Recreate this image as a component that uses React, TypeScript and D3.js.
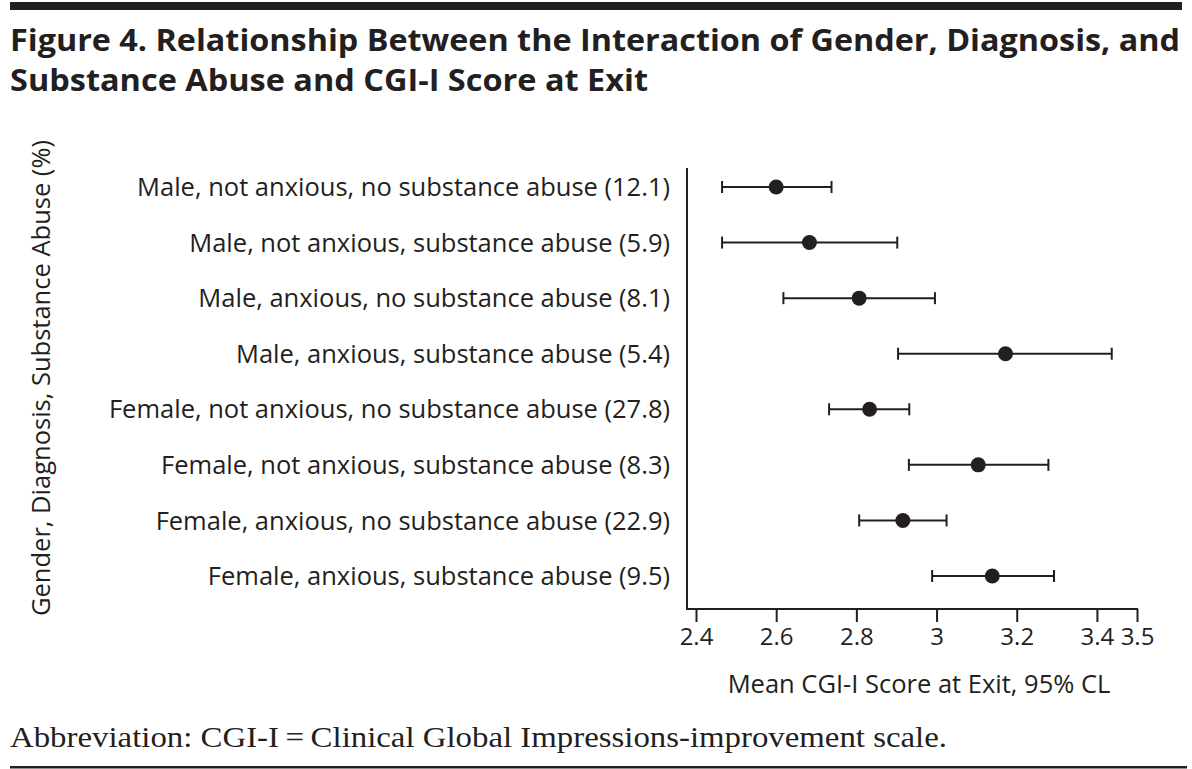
import React, { useEffect, useRef } from 'react';
import * as d3 from 'd3';

const groups = [
  'Male, not anxious, no substance abuse (12.1)',
  'Male, not anxious, substance abuse (5.9)',
  'Male, anxious, no substance abuse (8.1)',
  'Male, anxious, substance abuse (5.4)',
  'Female, not anxious, no substance abuse (27.8)',
  'Female, not anxious, substance abuse (8.3)',
  'Female, anxious, no substance abuse (22.9)',
  'Female, anxious, substance abuse (9.5)',
];
const means = [2.6, 2.683, 2.807, 3.172, 2.833, 3.104, 2.916, 3.139];
const lowerCL = [2.465, 2.465, 2.618, 2.904, 2.732, 2.931, 2.807, 2.989];
const upperCL = [2.738, 2.902, 2.996, 3.437, 2.932, 3.279, 3.025, 3.293];
const xTicks = [2.4, 2.6, 2.8, 3, 3.2, 3.4, 3.5];

const INK = '#231f20';
const SANS = '"Open Sans", "Noto Sans", sans-serif';
const FS = 25.5;

export default function App() {
  const svgRef = useRef<SVGSVGElement>(null);

  useEffect(() => {
    if (!svgRef.current) return;
    const svg = d3.select(svgRef.current);
    svg.selectAll('*').remove();

    const axisX = 687;
    const axisTop = 168;
    const axisBottom = 609;

    const x = d3.scaleLinear().domain([2.4, 3.5]).range([696, 1137]);
    const y = d3.scalePoint<string>().domain(groups).range([187, 576]);

    // top rule
    svg.append('rect')
      .attr('x', 10).attr('y', 2)
      .attr('width', 1172).attr('height', 8)
      .attr('fill', INK);

    // title
    svg.append('text')
      .attr('x', 10).attr('y', 51)
      .attr('font-family', SANS).attr('font-weight', 700)
      .attr('font-size', 29.5).attr('fill', INK)
      .attr('textLength', 1170).attr('lengthAdjust', 'spacingAndGlyphs')
      .text('Figure 4. Relationship Between the Interaction of Gender, Diagnosis, and');
    svg.append('text')
      .attr('x', 10).attr('y', 91)
      .attr('font-family', SANS).attr('font-weight', 700)
      .attr('font-size', 29.5).attr('fill', INK)
      .attr('textLength', 638).attr('lengthAdjust', 'spacingAndGlyphs')
      .text('Substance Abuse and CGI-I Score at Exit');

    // axes lines
    svg.append('line')
      .attr('x1', axisX).attr('x2', axisX)
      .attr('y1', axisTop).attr('y2', axisBottom + 1)
      .attr('stroke', INK).attr('stroke-width', 2);
    svg.append('line')
      .attr('x1', axisX).attr('x2', x(3.5) + 1)
      .attr('y1', axisBottom).attr('y2', axisBottom)
      .attr('stroke', INK).attr('stroke-width', 2);

    const gx = svg.append('g')
      .attr('transform', `translate(0,${axisBottom})`)
      .call(d3.axisBottom(x).tickValues(xTicks).tickSize(13).tickPadding(6).tickFormat(d3.format('')));
    gx.select('.domain').remove();
    gx.selectAll('line').attr('stroke', INK).attr('stroke-width', 2);
    gx.selectAll('text')
      .attr('font-family', SANS).attr('font-size', 24).attr('fill', INK);

    // axis titles
    svg.append('text')
      .attr('x', 919).attr('y', 693)
      .attr('text-anchor', 'middle')
      .attr('font-family', SANS).attr('font-size', FS).attr('fill', INK)
      .text('Mean CGI-I Score at Exit, 95% CL');
    svg.append('text')
      .attr('transform', 'translate(50,378) rotate(-90)')
      .attr('text-anchor', 'middle')
      .attr('font-family', SANS).attr('font-size', FS).attr('fill', INK)
      .text('Gender, Diagnosis, Substance Abuse (%)');

    // category labels
    svg.append('g').selectAll('text')
      .data(groups)
      .join('text')
      .attr('x', 670)
      .attr('y', d => y(d)!)
      .attr('dy', '0.36em')
      .attr('text-anchor', 'end')
      .attr('font-family', SANS).attr('font-size', FS).attr('fill', INK)
      .text(d => d);

    // error bars
    const rows = groups.map((g, i) => ({ g, m: means[i], lo: lowerCL[i], hi: upperCL[i] }));
    const bars = svg.append('g');
    rows.forEach(r => {
      const cy = y(r.g)!;
      bars.append('line')
        .attr('x1', x(r.lo)).attr('x2', x(r.hi))
        .attr('y1', cy).attr('y2', cy)
        .attr('stroke', INK).attr('stroke-width', 2);
      [r.lo, r.hi].forEach(v => {
        bars.append('line')
          .attr('x1', x(v)).attr('x2', x(v))
          .attr('y1', cy - 6).attr('y2', cy + 6)
          .attr('stroke', INK).attr('stroke-width', 2);
      });
      bars.append('circle')
        .attr('cx', x(r.m)).attr('cy', cy)
        .attr('r', 7.5)
        .attr('fill', INK);
    });

    // footnote
    svg.append('text')
      .attr('x', 10).attr('y', 747)
      .attr('font-family', '"Liberation Serif", "DejaVu Serif", serif')
      .attr('font-size', 30).attr('fill', INK)
      .attr('textLength', 937).attr('lengthAdjust', 'spacingAndGlyphs')
      .text('Abbreviation: CGI-I\u2009=\u2009Clinical Global Impressions-improvement scale.');
    svg.append('rect')
      .attr('x', 10).attr('y', 766)
      .attr('width', 1177).attr('height', 2.5)
      .attr('fill', INK);
  }, []);

  return (
    <svg
      ref={svgRef}
      width={1192}
      height={769}
      style={{ position: 'absolute', left: 0, top: 0, background: '#fff' }}
    />
  );
}
